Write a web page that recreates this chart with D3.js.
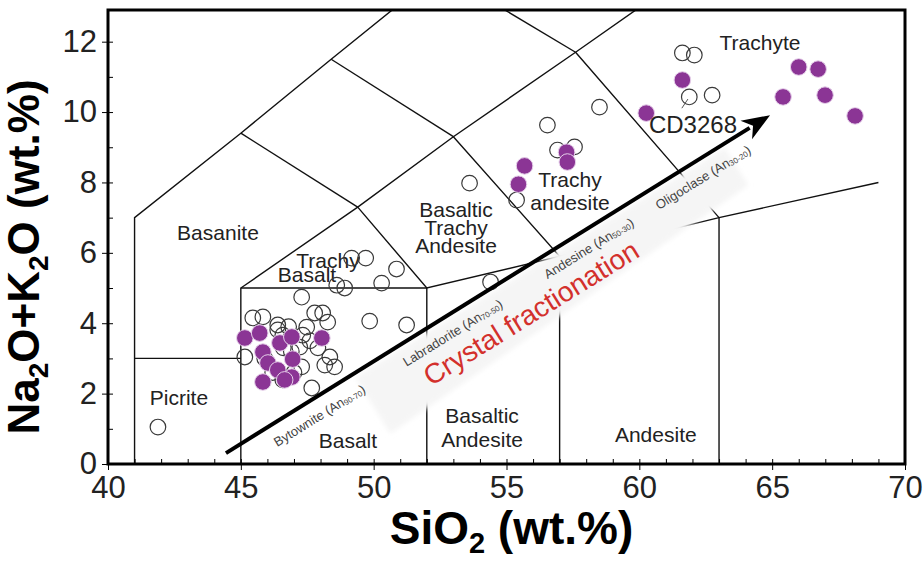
<!DOCTYPE html>
<html>
<head>
<meta charset="utf-8">
<script src="https://cdn.jsdelivr.net/npm/d3@7"></script>
<style>
    body { margin: 0; background: #fff; }
    text { font-family: "Liberation Sans", Arial, sans-serif; }
</style>
</head>
<body>
<div id="chart_root"></div>
<script>
// --- data ---
const xTicks = [40, 45, 50, 55, 60, 65, 70];
const yTicks = [0, 2, 4, 6, 8, 10, 12];

// TAS field boundaries (SiO2, Na2O+K2O)
const fieldLines = [
    [[41, 0], [41, 7], [45, 9.4], [48.4, 11.5], [52.5, 14]],
    [[41, 3], [45, 3]],
    [[45, 0], [45, 5], [49.4, 7.3], [53, 9.3], [57.6, 11.7], [61, 13.5]],
    [[45, 5], [52, 5], [52, 0]],
    [[49.4, 7.3], [52, 5], [57, 5.9], [63, 7], [69, 8]],
    [[53, 9.3], [57, 5.9], [57, 0]],
    [[57.6, 11.7], [63, 7], [63, 0]],
    [[45, 9.4], [49.4, 7.3]],
    [[48.4, 11.5], [53, 9.3]],
    [[52.5, 14], [57.6, 11.7]]
];

const openSamples = [
    [41.88, 1.05],
    [45.45, 4.15], [45.83, 4.18], [46.39, 3.95], [47.78, 4.29], [48.08, 4.29],
    [48.27, 4.03], [47.48, 3.89], [47.33, 3.66], [47.22, 3.32], [45.15, 3.04],
    [48.35, 3.04], [48.16, 2.81], [48.53, 2.76], [47.29, 2.76], [46.58, 2.39],
    [47.67, 2.16], [46.39, 3.81], [46.58, 3.66], [46.8, 3.9], [46.9, 3.2],
    [47.0, 2.6], [46.2, 2.6], [45.9, 3.0], [46.6, 3.3], [47.6, 3.5], [47.9, 3.3],
    [47.29, 4.74], [48.61, 5.08], [48.91, 5.00], [49.17, 5.85], [49.70, 5.85],
    [50.86, 5.54], [50.30, 5.14], [49.85, 4.06], [51.24, 3.95],
    [54.40, 5.17],
    [53.61, 7.98], [55.38, 7.50], [56.54, 9.63], [56.92, 8.92], [57.56, 9.01],
    [58.50, 10.14], [61.62, 11.68], [62.07, 11.62], [61.88, 10.43], [62.74, 10.48]
];

const purpleSamples = [
    [45.15, 3.58], [45.71, 3.72], [46.47, 3.44], [46.92, 3.61], [48.05, 3.58],
    [45.83, 3.18], [46.02, 2.87], [46.95, 2.98], [46.39, 2.67], [46.92, 2.47],
    [46.65, 2.39], [45.83, 2.33],
    [55.45, 7.95], [55.68, 8.47], [57.26, 8.86], [57.29, 8.58],
    [60.26, 9.97], [61.62, 10.91],
    [65.41, 10.43], [66.0, 11.28], [66.73, 11.22], [66.99, 10.48], [68.12, 9.89]
];

const fieldNames = [
    { text: "Basanite", x: 44.14, y: 6.36 },
    { text: "Trachy", x: 48.28, y: 5.57 },
    { text: "Basalt", x: 47.49, y: 5.17 },
    { text: "Basaltic", x: 53.1, y: 7.02 },
    { text: "Trachy", x: 53.1, y: 6.51 },
    { text: "Andesite", x: 53.1, y: 5.99 },
    { text: "Trachy", x: 57.39, y: 7.87 },
    { text: "andesite", x: 57.39, y: 7.22 },
    { text: "Trachyte", x: 64.54, y: 11.76 },
    { text: "Picrite", x: 42.67, y: 1.68 },
    { text: "Basalt", x: 49.03, y: 0.45 },
    { text: "Basaltic", x: 54.08, y: 1.16 },
    { text: "Andesite", x: 54.08, y: 0.48 },
    { text: "Andesite", x: 60.62, y: 0.63 }
];

const sampleTag = { text: "CD3268", x: 62.02, y: 9.40, from: [61.6, 10.11], to: [61.83, 10.37] };

// arrow of the fractionation trend and the plagioclase along it
const trendFrom = [44.44, 0.31];
const trendTo = [64.92, 9.91];
const feldspars = [
    { name: "Bytownite", an: "90-70", at: 0.155 },
    { name: "Labradorite", an: "70-50", at: 0.40 },
    { name: "Andesine", an: "50-30", at: 0.65 },
    { name: "Oligoclase", an: "30-20", at: 0.86 }
];

// --- layout ---
const W = 924, H = 562;
const margin = { top: 10, right: 19, bottom: 98, left: 108 };
const width = W - margin.left - margin.right;
const height = H - margin.top - margin.bottom;

const svg = d3.select("#chart_root")
    .append("svg")
    .attr("width", W)
    .attr("height", H)
    .style("background", "#fff")
    .append("g")
    .attr("transform", "translate(" + margin.left + "," + margin.top + ")");

const x = d3.scaleLinear().domain([40, 70]).range([0, width]);
const y = d3.scaleLinear().domain([0, 12.9]).range([height, 0]);

svg.append("clipPath").attr("id", "plotclip")
    .append("rect").attr("width", width).attr("height", height);

const line = d3.line().x(d => x(d[0])).y(d => y(d[1]));

svg.append("g")
    .attr("clip-path", "url(#plotclip)")
    .selectAll("path")
    .data(fieldLines)
    .enter()
    .append("path")
    .attr("d", line)
    .attr("fill", "none")
    .attr("stroke", "#111")
    .attr("stroke-width", 1.4);

// arrow frame
const p0 = [x(trendFrom[0]), y(trendFrom[1])];
const p1 = [x(trendTo[0]), y(trendTo[1])];
const len = Math.hypot(p1[0] - p0[0], p1[1] - p0[1]);
const ux = (p1[0] - p0[0]) / len, uy = (p1[1] - p0[1]) / len;
const vx = -uy, vy = ux; // perpendicular, pointing below the arrow
const at = (u, v) => [p0[0] + u * ux + v * vx, p0[1] + u * uy + v * vy];
const angle = Math.atan2(uy, ux) * 180 / Math.PI;

// pale band behind the label
svg.append("defs").append("filter").attr("id", "soft")
    .append("feGaussianBlur").attr("stdDeviation", 2.5);
svg.append("polygon")
    .attr("points", [at(150, 4), at(585, 4), at(585, 48), at(150, 70)].map(p => p.join(",")).join(" "))
    .attr("fill", "#f5f5f5")
    .attr("filter", "url(#soft)");

svg.append("g")
    .selectAll("text")
    .data(fieldNames)
    .enter()
    .append("text")
    .attr("x", d => x(d.x))
    .attr("y", d => y(d.y))
    .attr("text-anchor", "middle")
    .style("font-size", "21px")
    .style("fill", "#222")
    .text(d => d.text);

svg.append("g")
    .selectAll("circle")
    .data(openSamples)
    .enter()
    .append("circle")
    .attr("cx", d => x(d[0]))
    .attr("cy", d => y(d[1]))
    .attr("r", 7.8)
    .attr("fill", "none")
    .attr("stroke", "#3a3a3a")
    .attr("stroke-width", 1.2);

svg.append("g")
    .selectAll("circle")
    .data(purpleSamples)
    .enter()
    .append("circle")
    .attr("cx", d => x(d[0]))
    .attr("cy", d => y(d[1]))
    .attr("r", 8.3)
    .attr("fill", "#8b3595")
    .attr("stroke", "#e6d0ea")
    .attr("stroke-width", 1);

svg.append("line")
    .attr("x1", x(sampleTag.from[0])).attr("y1", y(sampleTag.from[1]))
    .attr("x2", x(sampleTag.to[0])).attr("y2", y(sampleTag.to[1]))
    .attr("stroke", "#555");
svg.append("text")
    .attr("x", x(sampleTag.x))
    .attr("y", y(sampleTag.y))
    .attr("text-anchor", "middle")
    .style("font-size", "24px")
    .style("fill", "#222")
    .text(sampleTag.text);

// trend arrow
const headBase = at(len - 24, 0);
svg.append("line")
    .attr("x1", p0[0]).attr("y1", p0[1])
    .attr("x2", headBase[0]).attr("y2", headBase[1])
    .attr("stroke", "#000")
    .attr("stroke-width", 4);
svg.append("polygon")
    .attr("points", [at(len, 0), at(len - 28, -11), at(len - 20, 0), at(len - 28, 11)].map(p => p.join(",")).join(" "))
    .attr("fill", "#000");

const fs = svg.append("g")
    .selectAll("text")
    .data(feldspars)
    .enter()
    .append("text")
    .attr("transform", d => {
        const p = at(d.at * len, 17);
        return "translate(" + p[0] + "," + p[1] + ") rotate(" + angle + ")";
    })
    .attr("text-anchor", "middle")
    .attr("dominant-baseline", "central")
    .style("font-size", "13px")
    .style("fill", "#444");
fs.append("tspan").text(d => d.name + " (An");
fs.append("tspan").attr("dy", 3).style("font-size", "8px").text(d => d.an);
fs.append("tspan").attr("dy", -3).text(")");

const cf = at(333, 42);
svg.append("text")
    .attr("transform", "translate(" + cf[0] + "," + cf[1] + ") rotate(" + angle + ")")
    .attr("text-anchor", "middle")
    .attr("dominant-baseline", "central")
    .style("font-size", "28px")
    .style("fill", "#d3302c")
    .text("Crystal fractionation");

// axes
svg.append("g")
    .attr("transform", "translate(0," + height + ")")
    .call(d3.axisBottom(x).tickValues(d3.range(41, 70)).tickSize(-5).tickFormat(""))
    .call(g => g.select(".domain").remove());
svg.append("g")
    .call(d3.axisLeft(y).tickValues(d3.range(1, 13)).tickSize(-5).tickFormat(""))
    .call(g => g.select(".domain").remove());

svg.append("g")
    .attr("transform", "translate(0," + height + ")")
    .call(d3.axisBottom(x).tickValues(xTicks).tickSize(6).tickPadding(6))
    .call(g => g.select(".domain").remove())
    .call(g => g.selectAll("text").style("font-size", "31px").style("fill", "#222")
        .style("font-family", "'Liberation Sans', Arial, sans-serif"));
svg.append("g")
    .call(d3.axisLeft(y).tickValues(yTicks).tickSize(6).tickPadding(5))
    .call(g => g.select(".domain").remove())
    .call(g => g.selectAll("text").style("font-size", "31px").style("fill", "#222")
        .style("font-family", "'Liberation Sans', Arial, sans-serif"));

svg.append("rect")
    .attr("width", width)
    .attr("height", height)
    .attr("fill", "none")
    .attr("stroke", "#000")
    .attr("stroke-width", 3);

// axis titles
const yTitle = svg.append("text")
    .attr("transform", "translate(" + (-69) + "," + (height / 2 + 20) + ") rotate(-90)")
    .attr("text-anchor", "middle")
    .style("font-size", "44px")
    .style("font-weight", "bold");
yTitle.append("tspan").text("Na");
yTitle.append("tspan").attr("dy", 9).style("font-size", "28px").text("2");
yTitle.append("tspan").attr("dy", -9).text("O+K");
yTitle.append("tspan").attr("dy", 9).style("font-size", "28px").text("2");
yTitle.append("tspan").attr("dy", -9).text("O (wt.%)");

const xTitle = svg.append("text")
    .attr("x", width / 2 + 5)
    .attr("y", height + 80)
    .attr("text-anchor", "middle")
    .style("font-size", "46px")
    .style("font-weight", "bold");
xTitle.append("tspan").text("SiO");
xTitle.append("tspan").attr("dy", 9).style("font-size", "29px").text("2");
xTitle.append("tspan").attr("dy", -9).text(" (wt.%)");
</script>
</body>
</html>
